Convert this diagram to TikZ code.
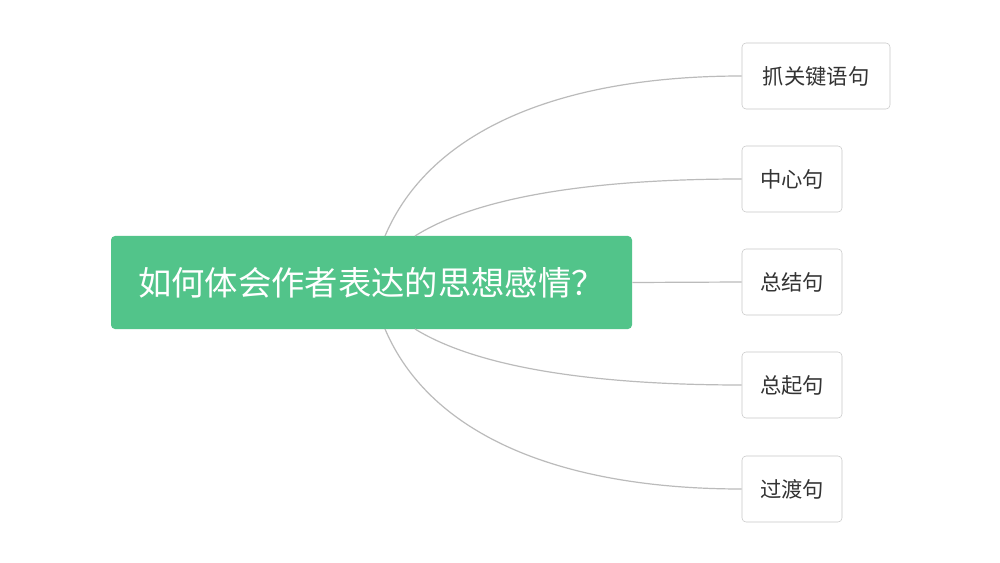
\documentclass[tikz,border=0pt]{standalone}
\usepackage{fontspec}
\newfontfamily\cjk{Noto Sans CJK SC}
\definecolor{maingreen}{HTML}{52C48A}
\definecolor{linegray}{HTML}{BBBBBB}
\definecolor{boxgray}{HTML}{C8C8C8}
\definecolor{txt}{HTML}{333333}
\begin{document}
\begin{tikzpicture}[x=0.75pt,y=-0.75pt,
  root/.style={fill=maingreen,rounded corners=3pt,text=white,font=\cjk\fontsize{25}{30}\selectfont,minimum width=521*0.75pt,minimum height=93*0.75pt,inner sep=0pt},
  leaf/.style={draw=boxgray,fill=white,rounded corners=3pt,text=txt,font=\cjk\fontsize{16}{20}\selectfont,minimum height=66*0.75pt,inner sep=0pt},
  conn/.style={draw=linegray,line width=0.9pt}]
\fill[white] (0,0) rectangle (1000,563);
\node[root] (r) at (371.5,282.5) {如何体会作者表达的思想感情？};
\node[leaf,minimum width=148*0.75pt] (a) at (816,76) {抓关键语句};
\node[leaf,minimum width=100*0.75pt] (b) at (792,179) {中心句};
\node[leaf,minimum width=100*0.75pt] (c) at (792,282) {总结句};
\node[leaf,minimum width=100*0.75pt] (d) at (792,385) {总起句};
\node[leaf,minimum width=100*0.75pt] (e) at (792,489) {过渡句};
\coordinate (s1) at (385,236);
\coordinate (s2) at (415,236);
\coordinate (s4) at (415,329);
\coordinate (s5) at (385,329);
\draw[conn] (s1) .. controls (430,130) and (560,76) .. (a.west);
\draw[conn] (s2) .. controls (480,195) and (600,179) .. (b.west);
\draw[conn] (r.east) -- (c.west);
\draw[conn] (s4) .. controls (480,369) and (600,385) .. (d.west);
\draw[conn] (s5) .. controls (430,435) and (560,489) .. (e.west);
\end{tikzpicture}
\end{document}
